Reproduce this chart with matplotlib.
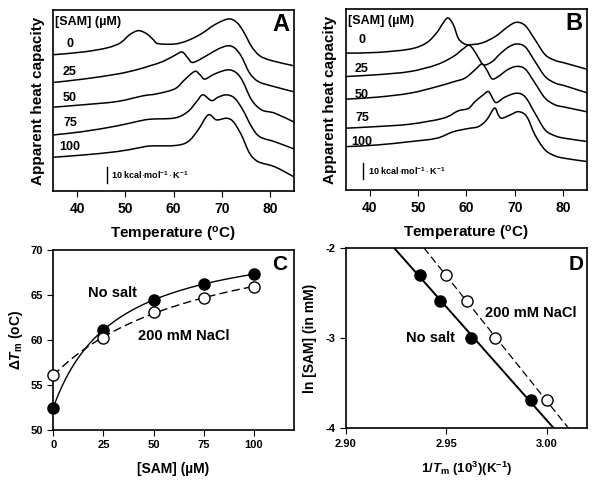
import numpy as np
import matplotlib
matplotlib.use("Agg")
import matplotlib.pyplot as plt
from matplotlib.path import Path
from matplotlib.patches import PathPatch

plt.rcParams['font.family'] = 'Liberation Sans'
plt.rcParams['font.weight'] = 'bold'
plt.rcParams['axes.labelweight'] = 'bold'
plt.rcParams['axes.unicode_minus'] = False
plt.rcParams['mathtext.fontset'] = 'custom'
plt.rcParams['mathtext.rm'] = 'Liberation Sans:bold'
plt.rcParams['mathtext.it'] = 'Liberation Sans:italic:bold'
plt.rcParams['mathtext.bf'] = 'Liberation Sans:bold'
plt.rcParams['mathtext.default'] = 'rm'

# ---- panel A: thermograms, no salt (apparent Cp, offset curves) ----
sam_labels = ['0', '25', '50', '75', '100']

tA0 = [35, 41.2, 46.1, 48.9, 50.9, 52.7, 54.4, 55.8, 56.8, 60.3, 63.0, 65.8, 68.6, 71.4, 73.1, 74.5, 76.2, 77.9, 80.3, 85]
cA0 = [85.0, 86.7, 89.2, 92.3, 97.5, 100.0, 98.1, 94.4, 91.9, 91.7, 93.9, 98.1, 103.8, 107.3, 105.2, 99.6, 90.2, 84.4, 81.4, 78.1]
tA25 = [35, 41.2, 48.2, 52.3, 55.1, 57.8, 60.3, 61.8, 63.0, 64.1, 67.2, 69.3, 71.3, 72.7, 74.1, 75.8, 77.6, 80.3, 85]
cA25 = [67.7, 69.8, 72.9, 75.6, 78.1, 80.8, 84.7, 86.7, 82.9, 80.2, 85.0, 88.6, 90.6, 89.2, 83.9, 73.6, 68.3, 65.6, 61.9]
tA50 = [35, 41.2, 48.2, 53.7, 56.5, 60.3, 62.3, 64.4, 65.5, 66.5, 68.6, 71.3, 73.1, 74.4, 76.2, 78.3, 81.0, 85]
cA50 = [52.3, 53.8, 55.8, 59.4, 60.6, 63.8, 69.4, 74.6, 72.5, 69.8, 73.1, 75.6, 73.6, 68.3, 56.9, 50.6, 48.6, 43.1]
tA75 = [35, 41.2, 48.2, 52.3, 55.1, 60.3, 63.0, 64.8, 66.1, 67.9, 69.3, 71.0, 72.7, 74.4, 76.2, 77.9, 81.0, 85]
cA75 = [35.0, 37.1, 40.6, 43.3, 44.8, 45.6, 49.6, 55.8, 60.0, 56.4, 58.6, 60.0, 57.9, 50.6, 40.2, 33.9, 30.8, 26.3]
tA100 = [35, 41.2, 48.2, 52.3, 55.1, 60.3, 63.0, 65.1, 67.2, 68.9, 71.0, 72.4, 74.1, 75.8, 77.6, 81.0, 85]
cA100 = [21.1, 22.5, 24.6, 26.7, 28.1, 28.4, 30.8, 38.1, 47.5, 44.4, 45.4, 43.3, 35.0, 23.6, 18.3, 15.2, 8.9]

# ---- panel B: thermograms, 200 mM NaCl ----
tB0 = [35, 41.4, 48.3, 51.7, 53.8, 55.2, 56.2, 57.3, 58.3, 59.3, 60.4, 63.2, 66.0, 68.7, 70.4, 72.2, 74.2, 76.3, 78.4, 80.4, 85]
cB0 = [85.4, 85.8, 87.9, 91.7, 97.9, 104.2, 107.3, 103.1, 94.8, 91.7, 90.6, 91.7, 95.8, 102.1, 104.6, 102.5, 93.8, 84.4, 80.8, 79.2, 75.3]
tB25 = [35, 41.4, 48.3, 53.8, 57.3, 59.3, 60.5, 61.5, 62.5, 63.6, 65.3, 67.0, 68.7, 70.4, 72.2, 74.2, 76.3, 78.4, 80.4, 85]
cB25 = [70.8, 71.9, 73.9, 78.1, 83.3, 88.0, 90.3, 87.5, 82.5, 78.1, 80.0, 85.0, 89.1, 91.1, 89.2, 80.2, 70.8, 66.7, 65.0, 60.6]
tB50 = [35, 41.4, 48.3, 53.8, 57.3, 59.7, 61.8, 63.2, 64.2, 65.3, 66.6, 68.5, 70.4, 72.2, 74.2, 76.3, 78.4, 80.4, 85]
cB50 = [56.7, 57.9, 60.4, 64.4, 67.5, 69.8, 75.0, 78.6, 75.0, 69.4, 70.8, 75.0, 77.1, 75.4, 66.7, 57.3, 53.1, 51.7, 48.8]
tB75 = [35, 41.4, 48.3, 55.2, 58.3, 60.4, 61.8, 63.5, 64.6, 65.6, 66.3, 68.0, 70.4, 72.2, 74.2, 76.3, 78.4, 80.4, 85]
cB75 = [38.6, 39.6, 41.1, 44.8, 49.4, 50.9, 55.2, 59.4, 61.4, 56.3, 54.6, 58.0, 60.4, 58.0, 47.9, 37.5, 33.8, 32.3, 30.3]
tB100 = [35, 41.4, 48.3, 53.8, 57.3, 60.4, 62.5, 64.2, 65.8, 66.6, 67.3, 69.1, 70.8, 72.5, 74.2, 76.3, 78.4, 80.4, 85]
cB100 = [27.1, 28.1, 30.2, 32.3, 36.4, 38.4, 39.6, 43.8, 51.1, 46.9, 44.8, 46.9, 48.9, 45.8, 34.4, 25.0, 21.3, 19.8, 17.8]

# ---- panel C: Tm vs [SAM] ----
sam = np.array([0, 25, 50, 75, 100])
tm_nosalt = np.array([52.5, 61.1, 64.5, 66.2, 67.3])
tm_salt = np.array([56.1, 60.2, 63.1, 64.7, 65.9])

# ---- panel D: ln[SAM] vs 1/Tm ----
ln_sam = np.array([-2.30, -2.59, -3.00, -3.69])
inv_nosalt = np.array([2.937, 2.947, 2.962, 2.992])
inv_salt = np.array([2.950, 2.960, 2.974, 3.000])


def hyper_fit(x, y):
    best = None
    for K in np.linspace(1, 300, 3000):
        f = x / (K + x)
        M = np.vstack([np.ones_like(f), f]).T
        coef = np.linalg.lstsq(M, y, rcond=None)[0]
        err = np.sum((M @ coef - y) ** 2)
        if best is None or err < best[0]:
            best = (err, K, coef)
    _, K, coef = best
    return lambda xx: coef[0] + coef[1] * xx / (K + xx)


def smooth_trace(ax, t, c, **kw):
    # draw a smooth path through the read points (Catmull-Rom as Bezier segments)
    P = np.column_stack([t, c]).astype(float)
    n = len(P)
    verts = [P[0]]
    codes = [Path.MOVETO]
    for i in range(n - 1):
        p0 = P[i - 1] if i > 0 else P[i]
        p3 = P[i + 2] if i + 2 < n else P[i + 1]
        c1 = P[i] + (P[i + 1] - p0) / 6.0
        c2 = P[i + 1] - (p3 - P[i]) / 6.0
        verts += [c1, c2, P[i + 1]]
        codes += [Path.CURVE4] * 3
    ax.add_patch(PathPatch(Path(verts, codes), fill=False, **kw))


fig = plt.figure(figsize=(6.01, 4.90), dpi=100)
axA = fig.add_axes([0.0885, 0.610, 0.4005, 0.370])
axB = fig.add_axes([0.575, 0.612, 0.402, 0.370])
axC = fig.add_axes([0.0887, 0.1224, 0.4003, 0.3674])
axD = fig.add_axes([0.5757, 0.126, 0.4013, 0.368])

curvesA = [(tA0, cA0), (tA25, cA25), (tA50, cA50), (tA75, cA75), (tA100, cA100)]
curvesB = [(tB0, cB0), (tB25, cB25), (tB50, cB50), (tB75, cB75), (tB100, cB100)]
labA_y = [91.4, 74.4, 58.1, 42.5, 27.5]
labB_y = [93.3, 75.4, 59.4, 44.8, 30.2]

for ax, curves, laby, letter, bar, xlab in [
        (axA, curvesA, labA_y, 'A', (46.1, 5.2), 38.5),
        (axB, curvesB, labB_y, 'B', (38.6, 7.0), 38.4)]:
    for (t, c) in curves:
        smooth_trace(ax, t, c, edgecolor='black', lw=1.1)
    for s, yy in zip(sam_labels, laby):
        ax.text(xlab, yy, s, ha='center', va='center', fontsize=9)
    ax.text(35.4, 105.5, '[SAM] (µM)', ha='left', va='center', fontsize=9)
    ax.text(0.945, 0.92, letter, transform=ax.transAxes, ha='center', va='center', fontsize=17)
    ax.plot([bar[0], bar[0]], [bar[1], bar[1] + 10], color='black', lw=1.0)
    ax.text(bar[0] + 1.0, bar[1] + 5, r'10 kcal$\cdot$mol$^{-1}\cdot$K$^{-1}$', ha='left', va='center', fontsize=6.5)
    ax.set_xlim(35, 85)
    ax.set_ylim(0, 113)
    ax.set_xticks([40, 50, 60, 70, 80])
    ax.set_yticks([])
    ax.tick_params(axis='x', labelsize=10, direction='out', length=4)
    ax.set_xlabel(r'Temperature ($^{\mathrm{o}}$C)', fontsize=11, labelpad=7)
    ax.set_ylabel('Apparent heat capacity', fontsize=11, labelpad=6)

# panel C
xx = np.linspace(0, 100, 200)
fit_ns = hyper_fit(sam, tm_nosalt)
fit_s = hyper_fit(sam, tm_salt)
axC.plot(xx, fit_ns(xx), color='black', lw=1.0)
axC.plot(xx, fit_s(xx), color='black', lw=1.0, ls=(0, (6, 3)))
axC.plot(sam, tm_nosalt, 'o', ms=8, mfc='black', mec='black', clip_on=False, zorder=3)
axC.plot(sam, tm_salt, 'o', ms=8, mfc='white', mec='black', mew=1.0, clip_on=False, zorder=3)
axC.set_xlim(0, 120)
axC.set_ylim(50, 70)
axC.set_xticks([0, 25, 50, 75, 100])
axC.set_yticks([50, 55, 60, 65, 70])
axC.tick_params(labelsize=8, direction='out', length=4)
axC.text(29.7, 65.2, 'No salt', ha='center', va='center', fontsize=10.5)
axC.text(65.3, 60.5, '200 mM NaCl', ha='center', va='center', fontsize=10.5)
axC.text(0.942, 0.917, 'C', transform=axC.transAxes, ha='center', va='center', fontsize=15)
axC.set_xlabel('[SAM] (µM)', fontsize=10, labelpad=8)
axC.set_ylabel(r'Δ$\mathit{T}_{\mathrm{m}}$ (oC)', fontsize=10, labelpad=4)

# panel D
yy = np.array([-2.0, -4.0])
p_ns = np.polyfit(ln_sam, inv_nosalt, 1)
p_s = np.polyfit(ln_sam, inv_salt, 1)
axD.plot(np.polyval(p_ns, yy), yy, color='black', lw=1.4)
axD.plot(np.polyval(p_s, yy), yy, color='black', lw=0.9, ls=(0, (6, 3)))
axD.plot(inv_nosalt, ln_sam, 'o', ms=8, mfc='black', mec='black', zorder=3)
axD.plot(inv_salt, ln_sam, 'o', ms=8, mfc='white', mec='black', mew=1.0, zorder=3)
axD.set_xlim(2.90, 3.02)
axD.set_ylim(-4, -2)
axD.set_xticks([2.90, 2.95, 3.00])
axD.set_xticklabels(['2.90', '2.95', '3.00'])
axD.set_yticks([-4, -3, -2])
axD.tick_params(labelsize=8, direction='out', length=4)
axD.text(2.9917, -2.724, '200 mM NaCl', ha='center', va='center', fontsize=10.5)
axD.text(2.9419, -3.0, 'No salt', ha='center', va='center', fontsize=10.5)
axD.text(0.954, 0.906, 'D', transform=axD.transAxes, ha='center', va='center', fontsize=15)
axD.set_xlabel(r'1/$\mathit{T}_{\mathrm{m}}$ (10$^{3}$)(K$^{-1}$)', fontsize=9.5, labelpad=8)
axD.set_ylabel('ln [SAM] (in mM)', fontsize=10, labelpad=6)

for ax in (axA, axB, axC, axD):
    for sp in ax.spines.values():
        sp.set_linewidth(1.2)

fig.savefig('out.png', dpi=100)
